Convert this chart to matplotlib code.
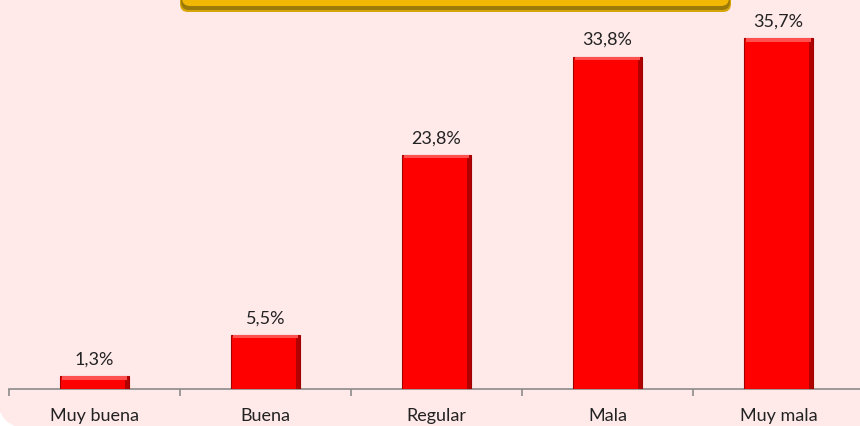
import matplotlib
matplotlib.use("Agg")
import matplotlib.pyplot as plt
from matplotlib.patches import FancyBboxPatch
import numpy as np

categories = ["Muy buena", "Buena", "Regular", "Mala", "Muy mala"]
values = [1.3, 5.5, 23.8, 33.8, 35.7]
labels = ["1,3%", "5,5%", "23,8%", "33,8%", "35,7%"]

W, H = 860, 427
fig = plt.figure(figsize=(W / 100, H / 100), dpi=100)
fig.patch.set_facecolor("white")

bg = "#FFE9E9"
# background with rounded bottom-left corner (inches transform)
fig.patches.append(FancyBboxPatch((-0.03, -0.03), (W + 60) / 100, (H + 60) / 100,
                                  boxstyle="round,pad=0,rounding_size=0.35",
                                  transform=fig.dpi_scale_trans, facecolor=bg,
                                  edgecolor="none", zorder=0))

gx0, gx1 = 180, 731
for (yb, col, ins) in [(13, "#D6A60A", 0), (11, "#9C7A0A", 1), (7, "#F2B705", 2)]:
    p = FancyBboxPatch(((gx0 + ins) / 100, (H - yb) / 100), (gx1 - gx0 - 2 * ins) / 100, 0.5,
                       boxstyle="round,pad=0,rounding_size=0.08",
                       transform=fig.dpi_scale_trans, facecolor=col, edgecolor="none", zorder=1)
    fig.patches.append(p)

ax = fig.add_axes([9 / W, (H - 390) / H, 855 / W, 390 / H])
ax.set_zorder(5)
ax.set_facecolor("none")
ax.set_xlim(-0.5, 4.5)
ax.set_ylim(0, 390 / 9.83)

x = np.arange(len(categories))
bw = 0.4
ax.bar(x, values, width=bw, color="#FF0000", edgecolor="#A00000", linewidth=0.8, zorder=3)
ax.bar(x + bw / 2 - 0.012, values, width=0.024, color="#B00000", edgecolor="none", zorder=4)
hl = 0.35
ax.bar(x, [hl] * len(values), bottom=[v - hl for v in values], width=bw - 0.02,
       color="#FF5050", edgecolor="none", zorder=4)

for xi, v, lab in zip(x, values, labels):
    ax.annotate(lab, (xi, v), xytext=(0, 7), textcoords="offset points",
                ha="center", va="bottom", fontsize=13, family="Lato", color="#222222")

for s in ["top", "right", "left"]:
    ax.spines[s].set_visible(False)
ax.spines["bottom"].set_color("#8C8C8C")
ax.spines["bottom"].set_linewidth(1.2)
ax.set_yticks([])
ax.set_xticks(np.arange(-0.5, 5.0, 1.0))
ax.set_xticklabels([])
ax.tick_params(axis="x", which="major", length=5, color="#8C8C8C", width=1.2)
ax.set_xticks(x, minor=True)
ax.set_xticklabels(categories, minor=True, fontsize=13, family="Lato", color="#222222")
ax.tick_params(axis="x", which="minor", length=0, pad=13)

fig.savefig("out.png", dpi=100, facecolor=fig.get_facecolor())
